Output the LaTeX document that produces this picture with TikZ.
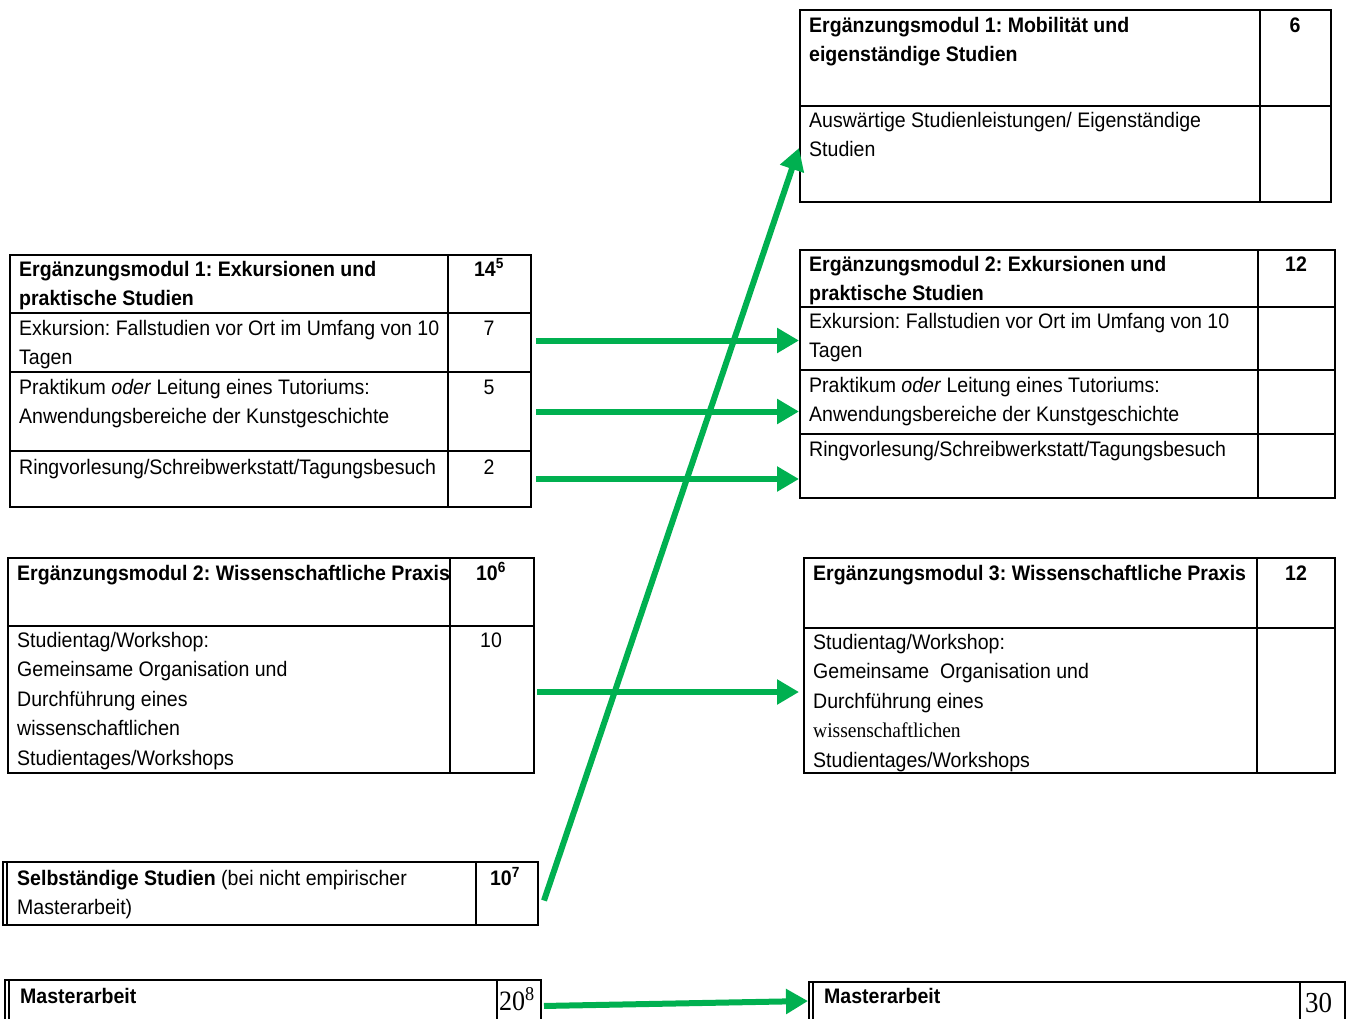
\documentclass[tikz,border=0pt]{standalone}
\usepackage{fontspec}
\setmainfont{Liberation Sans}[FakeStretch=0.93]
\newfontfamily\seriffont{Liberation Serif}[FakeStretch=0.93]
\usetikzlibrary{arrows.meta,fit}
\definecolor{arrowgreen}{HTML}{00B050}
\frenchspacing
\newcommand\ml[1]{\vtop{\baselineskip=29.5pt\lineskiplimit=-100pt\halign{##\hfil\cr#1\crcr}}}
\tikzset{
  cellbox/.style={draw, line width=2pt, inner sep=0pt},
  txt/.style={inner sep=0pt, anchor=base west, font=\fontsize{21}{29.5}\selectfont},
  btxt/.style={txt, font=\fontsize{21}{29.5}\selectfont\bfseries},
  num/.style={txt, anchor=base},
  bnum/.style={btxt, anchor=base},
  garrow/.style={draw=arrowgreen, line width=6pt, -{Triangle[length=22pt,width=24pt]}},
}
\begin{document}
\begin{tikzpicture}[x=1pt,y=-1pt]
\path[use as bounding box] (0,0) rectangle (1347,1018);
\clip (0,0) rectangle (1347,1018);

% ---------- left box 1 ----------
\node[cellbox, fit={(10,255) (448,313)}] (L1h) {};
\node[cellbox, fit={(448,255) (531,313)}] (L1hn) {};
\node[cellbox, fit={(10,313) (448,372)}] (L1a) {};
\node[cellbox, fit={(448,313) (531,372)}] (L1an) {};
\node[cellbox, fit={(10,372) (448,451)}] (L1b) {};
\node[cellbox, fit={(448,372) (531,451)}] (L1bn) {};
\node[cellbox, fit={(10,451) (448,507)}] (L1c) {};
\node[cellbox, fit={(448,451) (531,507)}] (L1cn) {};
\node[btxt] (t1) at (19,276) {\ml{Ergänzungsmodul 1: Exkursionen und\cr praktische Studien}};
\node[bnum] (n1) at (489,276) {14\textsuperscript{5}};
\node[txt] (t2) at (19,335) {\ml{Exkursion: Fallstudien vor Ort im Umfang von 10\cr Tagen}};
\node[num] (n2) at (489,335) {7};
\node[txt] (t3) at (19,394) {\ml{Praktikum \textit{oder} Leitung eines Tutoriums:\cr Anwendungsbereiche der Kunstgeschichte}};
\node[num] (n3) at (489,394) {5};
\node[txt] (t4) at (19,474) {Ringvorlesung/Schreibwerkstatt/Tagungsbesuch};
\node[num] (n4) at (489,474) {2};

% ---------- left box 2 ----------
\node[cellbox, fit={(8,558) (450,626)}] (L2h) {};
\node[cellbox, fit={(450,558) (534,626)}] (L2hn) {};
\node[cellbox, fit={(8,626) (450,773)}] (L2b) {};
\node[cellbox, fit={(450,626) (534,773)}] (L2bn) {};
\node[btxt] (t5) at (17,580) {Ergänzungsmodul 2: Wissenschaftliche Praxis};
\node[bnum] (n5) at (491,580) {10\textsuperscript{6}};
\node[txt] (t6) at (17,647) {\ml{Studientag/Workshop:\cr Gemeinsame Organisation und\cr Durchführung eines\cr wissenschaftlichen\cr Studientages/Workshops}};
\node[num] (n6) at (491,647) {10};

% ---------- Selbstaendige Studien ----------
\node[cellbox, fit={(3,862) (476,925)}] (S) {};
\node[cellbox, fit={(476,862) (538,925)}] (Sn) {};
\draw[line width=2pt] ([xshift=5pt]S.north west) -- ([xshift=5pt]S.south west);
\node[txt] (t7) at (17,885) {\ml{\textbf{Selbständige Studien} (bei nicht empirischer\cr Masterarbeit)}};
\node[bnum] (n7) at (505,885) {10\textsuperscript{7}};

% ---------- Masterarbeit left ----------
\node[cellbox, fit={(5,980) (497,1032)}] (M) {};
\node[cellbox, fit={(497,980) (541,1032)}] (Mn) {};
\draw[line width=2pt] ([xshift=5pt]M.north west) -- ([xshift=5pt]M.south west);
\node[btxt] (t8) at (20,1003) {Masterarbeit};
\node[txt, font=\seriffont\fontsize{28}{30}\selectfont] (n8) at (499,1010) {20\textsuperscript{8}};

% ---------- right box 1 ----------
\node[cellbox, fit={(800,10) (1260,106)}] (R1h) {};
\node[cellbox, fit={(1260,10) (1331,106)}] (R1hn) {};
\node[cellbox, fit={(800,106) (1260,202)}] (R1b) {};
\node[cellbox, fit={(1260,106) (1331,202)}] (R1bn) {};
\node[btxt] (t9) at (809,32) {\ml{Ergänzungsmodul 1: Mobilität und\cr eigenständige Studien}};
\node[bnum] (n9) at (1295,32) {6};
\node[txt] (t10) at (809,127) {\ml{Auswärtige Studienleistungen/ Eigenständige\cr Studien}};

% ---------- right box 2 ----------
\node[cellbox, fit={(800,250) (1258,307)}] (R2h) {};
\node[cellbox, fit={(1258,250) (1335,307)}] (R2hn) {};
\node[cellbox, fit={(800,307) (1258,370)}] (R2a) {};
\node[cellbox, fit={(1258,307) (1335,370)}] (R2an) {};
\node[cellbox, fit={(800,370) (1258,434)}] (R2b) {};
\node[cellbox, fit={(1258,370) (1335,434)}] (R2bn) {};
\node[cellbox, fit={(800,434) (1258,498)}] (R2c) {};
\node[cellbox, fit={(1258,434) (1335,498)}] (R2cn) {};
\node[btxt] (t11) at (809,271) {\ml{Ergänzungsmodul 2: Exkursionen und\cr praktische Studien}};
\node[bnum] (n11) at (1296,271) {12};
\node[txt] (t12) at (809,328) {\ml{Exkursion: Fallstudien vor Ort im Umfang von 10\cr Tagen}};
\node[txt] (t13) at (809,392) {\ml{Praktikum \textit{oder} Leitung eines Tutoriums:\cr Anwendungsbereiche der Kunstgeschichte}};
\node[txt] (t14) at (809,456) {Ringvorlesung/Schreibwerkstatt/Tagungsbesuch};

% ---------- right box 3 ----------
\node[cellbox, fit={(804,558) (1257,628)}] (R3h) {};
\node[cellbox, fit={(1257,558) (1335,628)}] (R3hn) {};
\node[cellbox, fit={(804,628) (1257,773)}] (R3b) {};
\node[cellbox, fit={(1257,628) (1335,773)}] (R3bn) {};
\node[btxt] (t15) at (813,580) {Ergänzungsmodul 3: Wissenschaftliche Praxis};
\node[bnum] (n15) at (1296,580) {12};
\node[txt] (t16) at (813,649) {\ml{Studientag/Workshop:\cr Gemeinsame\ \ Organisation und\cr Durchführung eines\cr {\seriffont wissenschaftlichen}\cr Studientages/Workshops}};

% ---------- Masterarbeit right ----------
\node[cellbox, fit={(809,982) (1300,1032)}] (RM) {};
\node[cellbox, fit={(1300,982) (1345,1032)}] (RMn) {};
\draw[line width=2pt] ([xshift=5pt]RM.north west) -- ([xshift=5pt]RM.south west);
\node[btxt] (t17) at (824,1003) {Masterarbeit};
\node[txt, font=\seriffont\fontsize{29}{30}\selectfont] (n17) at (1305,1012) {30};

% ---------- arrows ----------
\coordinate (a1) at ([yshift=2pt]L1an.east);
\draw[garrow, shorten <=4pt] (a1) -- (R2a.west |- a1);
\draw[garrow, shorten <=4pt] (L1bn.east) -- (R2b.west |- L1bn.east);
\draw[garrow, shorten <=4pt] (L1cn.east) -- (R2c.west |- L1cn.east);
\coordinate (a4) at ([yshift=7.5pt]L2bn.east);
\draw[garrow, shorten <=2pt, shorten >=4pt] (a4) -- (R3b.west |- a4);
\coordinate (a5) at ([xshift=5pt,yshift=-7pt]Sn.east);
\draw[garrow] (a5) -- ([yshift=6pt]R1b.west);
\draw[garrow, shorten <=2pt] (Mn.east) -- ([yshift=6pt]RM.west);
\end{tikzpicture}
\end{document}
